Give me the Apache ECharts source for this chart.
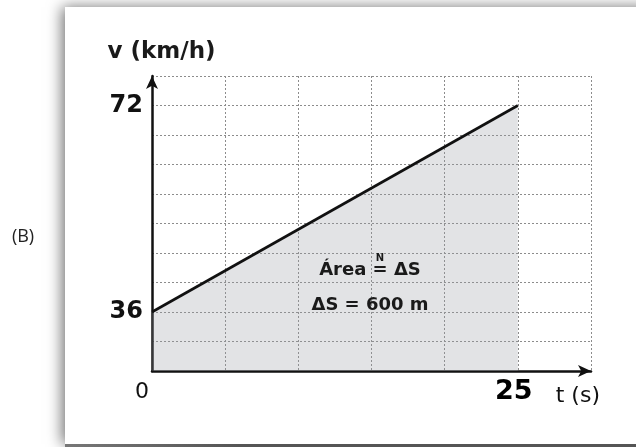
<!DOCTYPE html>
<html>
<head>
<meta charset="utf-8">
<script src="https://cdn.jsdelivr.net/npm/echarts@6/dist/echarts.min.js"></script>
<style>
  html, body { margin: 0; padding: 0; background: #fff; }
  #chart { width: 636px; height: 447px; }
</style>
</head>
<body>
<div id="chart"></div>
<script>
// ---- data ----
const timeS = [0, 25];            // t (s)
const speedKmh = [36, 72];        // v (km/h)
const yLabelValues = [36, 72];    // labelled speed ticks
const xLabelValues = [0, 25];     // labelled time ticks
const xTickStep = 5;
const xMax = 30;
const annotationLines = ['Área = ΔS', 'ΔS = 600 m'];
const panelLabel = '(B)';

// schematic (non-zero-based) speed scale: 7 grid steps between 36 and 72
const yStep = (speedKmh[1] - speedKmh[0]) / 7;

const seriesData = timeS.map((t, i) => [t, speedKmh[i]]);

const chart = echarts.init(document.getElementById('chart'), null, { renderer: 'canvas' });

const near = (a, b) => Math.abs(a - b) < 0.01;

chart.setOption({
  backgroundColor: '#ffffff',
  animation: false,
  grid: { left: 152, right: 45, top: 76, bottom: 76, containLabel: false },
  xAxis: {
    type: 'value',
    min: 0,
    max: xMax,
    interval: xTickStep,
    axisLine: {
      show: true, onZero: false,
      lineStyle: { color: '#111', width: 2.5 },
      symbol: ['none', 'arrow'], symbolSize: [9, 13]
    },
    axisTick: { show: false },
    splitLine: { show: true, lineStyle: { color: '#8c8c8c', type: [2, 2], width: 1 } },
    axisLabel: {
      margin: 6,
      formatter: v => near(v, xLabelValues[0]) ? '{a|' + xLabelValues[0] + '}' :
                      near(v, xLabelValues[1]) ? '{b|' + xLabelValues[1] + '}' : '',
      rich: {
        a: { fontFamily: 'DejaVu Sans', fontSize: 22, color: '#111', padding: [0, 20, 0, 0], lineHeight: 30 },
        b: { fontFamily: 'DejaVu Sans', fontWeight: 'bold', fontSize: 27, color: '#000', padding: [0, 8, 0, 0], lineHeight: 30 }
      }
    },
    name: 't (s)',
    nameLocation: 'end',
    nameGap: 9,
    nameTextStyle: {
      fontFamily: 'DejaVu Sans', fontSize: 22, color: '#111',
      align: 'right', verticalAlign: 'top', padding: [14, 0, 0, 0]
    }
  },
  yAxis: {
    type: 'value',
    min: 5 * yStep,
    max: 15 * yStep,
    interval: yStep,
    axisLine: {
      show: true, onZero: false,
      lineStyle: { color: '#111', width: 2.5 },
      symbol: ['none', 'arrow'], symbolSize: [9, 13]
    },
    axisTick: { show: false },
    splitLine: { show: true, lineStyle: { color: '#8c8c8c', type: [2, 2], width: 1 } },
    axisLabel: {
      margin: 9,
      fontFamily: 'DejaVu Sans', fontWeight: 'bold', fontSize: 24, color: '#111',
      formatter: v => yLabelValues.some(y => near(v, y)) ? String(Math.round(v)) : ''
    },
    name: 'v (km/h)',
    nameLocation: 'end',
    nameGap: 12,
    nameTextStyle: {
      fontFamily: 'DejaVu Sans', fontWeight: 'bold', fontSize: 23, color: '#1a1a1a',
      align: 'center', verticalAlign: 'bottom', padding: [0, 0, 0, 19]
    }
  },
  series: [{
    type: 'line',
    data: seriesData,
    symbol: 'none',
    lineStyle: { color: '#111', width: 2.6 },
    areaStyle: { color: 'rgba(150,155,160,0.40)', origin: 'start' },
    z: 3
  }],
  graphic: [
    {
      type: 'rect', z: -10, silent: true,
      shape: { x: 65, y: 7, width: 600, height: 437 },
      style: { fill: '#ffffff', shadowBlur: 14, shadowColor: 'rgba(0,0,0,0.55)', shadowOffsetX: -3, shadowOffsetY: 0 }
    },
    {
      type: 'rect', z: -5, silent: true,
      shape: { x: 65, y: 444, width: 580, height: 3 },
      style: {
        fill: new echarts.graphic.LinearGradient(0, 0, 1, 0, [
          { offset: 0, color: '#777' }, { offset: 0.3, color: '#555' }, { offset: 1, color: '#555' }
        ])
      }
    },
    {
      type: 'text', silent: true,
      style: { text: panelLabel, x: 23, y: 237, fill: '#222', font: 'normal 18px "Open Sans"', textAlign: 'center', textVerticalAlign: 'middle' }
    },
    {
      type: 'text', silent: true, z: 10,
      style: { text: annotationLines[0], x: 370, y: 270, fill: '#1a1a1a', font: 'bold 18px "DejaVu Sans"', textAlign: 'center', textVerticalAlign: 'middle' }
    },
    {
      type: 'text', silent: true, z: 10,
      style: { text: 'N', x: 380, y: 258, fill: '#1a1a1a', font: 'bold 10px "DejaVu Sans"', textAlign: 'center', textVerticalAlign: 'middle' }
    },
    {
      type: 'text', silent: true, z: 10,
      style: { text: annotationLines[1], x: 370, y: 305, fill: '#1a1a1a', font: 'bold 18px "DejaVu Sans"', textAlign: 'center', textVerticalAlign: 'middle' }
    }
  ]
});
</script>
</body>
</html>
